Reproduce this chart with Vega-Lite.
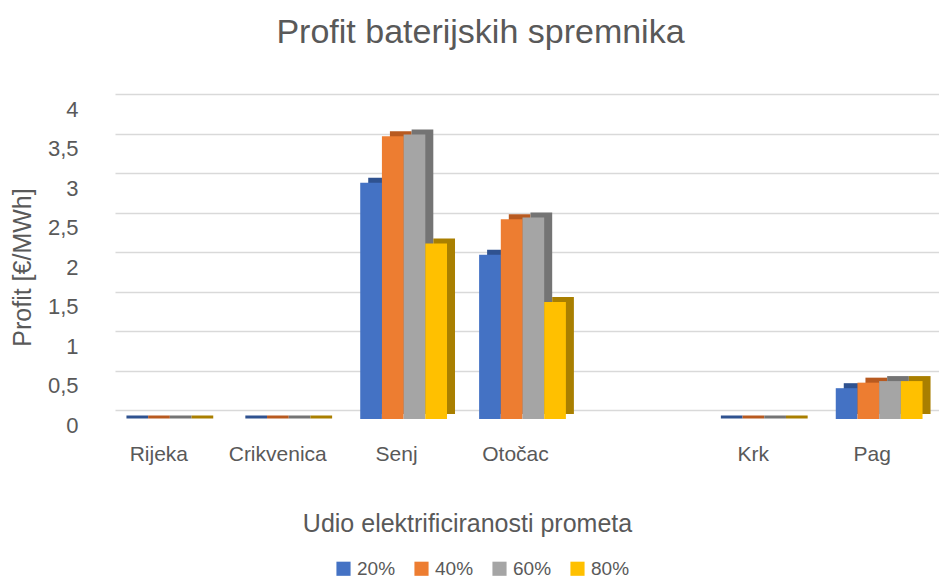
{
  "$schema": "https://vega.github.io/schema/vega-lite/v6.json",
  "width": 831,
  "height": 316,
  "autosize": "none",
  "padding": {"left": 100, "top": 94, "right": 8, "bottom": 168},
  "background": "white",
  "title": {
    "text": "Profit baterijskih spremnika",
    "fontSize": 34,
    "font": "Liberation Sans",
    "fontWeight": "normal",
    "color": "#595959",
    "anchor": "middle",
    "offset": 44,
    "dx": -35
  },
  "data": {
    "values": [
      {"grad": "Rijeka", "udio": "20%", "profit": 0},
      {"grad": "Rijeka", "udio": "40%", "profit": 0},
      {"grad": "Rijeka", "udio": "60%", "profit": 0},
      {"grad": "Rijeka", "udio": "80%", "profit": 0},
      {"grad": "Crikvenica", "udio": "20%", "profit": 0},
      {"grad": "Crikvenica", "udio": "40%", "profit": 0},
      {"grad": "Crikvenica", "udio": "60%", "profit": 0},
      {"grad": "Crikvenica", "udio": "80%", "profit": 0},
      {"grad": "Senj", "udio": "20%", "profit": 2.99},
      {"grad": "Senj", "udio": "40%", "profit": 3.58},
      {"grad": "Senj", "udio": "60%", "profit": 3.6},
      {"grad": "Senj", "udio": "80%", "profit": 2.22},
      {"grad": "Otočac", "udio": "20%", "profit": 2.08},
      {"grad": "Otočac", "udio": "40%", "profit": 2.53},
      {"grad": "Otočac", "udio": "60%", "profit": 2.55},
      {"grad": "Otočac", "udio": "80%", "profit": 1.48},
      {"grad": "Krk", "udio": "20%", "profit": 0},
      {"grad": "Krk", "udio": "40%", "profit": 0},
      {"grad": "Krk", "udio": "60%", "profit": 0},
      {"grad": "Krk", "udio": "80%", "profit": 0},
      {"grad": "Pag", "udio": "20%", "profit": 0.39},
      {"grad": "Pag", "udio": "40%", "profit": 0.46},
      {"grad": "Pag", "udio": "60%", "profit": 0.48},
      {"grad": "Pag", "udio": "80%", "profit": 0.48}
    ]
  },
  "encoding": {
    "xOffset": {
      "field": "udio",
      "type": "nominal",
      "scale": {"domain": ["20%", "40%", "60%", "80%"], "paddingInner": 0, "paddingOuter": 0}
    },
    "y": {
      "field": "profit",
      "type": "quantitative",
      "scale": {"domain": [0, 4], "nice": false},
      "axis": {
        "title": "Profit [€/MWh]",
        "titleFontSize": 25,
        "titleFont": "Liberation Sans",
        "titleFontWeight": "normal",
        "titleColor": "#595959",
        "titleX": -78,
        "titleY": 173,
        "titleBaseline": "middle",
        "values": [0, 0.5, 1, 1.5, 2, 2.5, 3, 3.5, 4],
        "labelExpr": "replace(format(datum.value, '.1~f'), '.', ',')",
        "labelFontSize": 22,
        "labelFont": "Liberation Sans",
        "labelColor": "#595959",
        "labelPadding": 22,
        "labelOffset": 15,
        "domain": false,
        "ticks": false,
        "grid": true,
        "gridColor": "#d9d9d9",
        "gridWidth": 1.5
      }
    }
  },
  "layer": [
    {
      "mark": {"type": "bar", "stroke": null, "yOffset": 4},
      "encoding": {
        "x": {
          "field": "grad",
          "type": "nominal",
          "sort": null,
          "scale": {"domain": ["Rijeka", "Crikvenica", "Senj", "Otočac", " ", "Krk", "Pag"], "paddingInner": 0.27, "paddingOuter": 0.13, "range": [15, 846]},
          "axis": null
        },
        "color": {
          "field": "udio",
          "type": "nominal",
          "scale": {"domain": ["20%", "40%", "60%", "80%"], "range": ["#2F5290", "#B85A20", "#747474", "#A97F00"]},
          "legend": null
        }
      }
    },
    {
      "transform": [{"filter": "datum.profit == 0"}],
      "mark": {"type": "bar", "yOffset": 7, "strokeWidth": 3, "fillOpacity": 0},
      "encoding": {
        "x": {
          "field": "grad",
          "type": "nominal",
          "sort": null,
          "scale": {"domain": ["Rijeka", "Crikvenica", "Senj", "Otočac", " ", "Krk", "Pag"], "paddingInner": 0.27, "paddingOuter": 0.13, "range": [11, 842]},
          "axis": null
        },
        "stroke": {
          "field": "udio",
          "type": "nominal",
          "scale": {"domain": ["20%", "40%", "60%", "80%"], "range": ["#2F5290", "#B85A20", "#747474", "#A97F00"]},
          "legend": null
        }
      }
    },
    {
      "mark": {"type": "bar", "stroke": null, "yOffset": 9},
      "encoding": {
        "x": {
          "field": "grad",
          "type": "nominal",
          "sort": null,
          "scale": {"domain": ["Rijeka", "Crikvenica", "Senj", "Otočac", " ", "Krk", "Pag"], "paddingInner": 0.27, "paddingOuter": 0.13, "range": [7, 838]},
          "axis": {
            "title": "Udio elektrificiranosti prometa",
            "titleFontSize": 25,
            "titleFont": "Liberation Sans",
            "titleFontWeight": "normal",
            "titleColor": "#595959",
            "titleX": 367,
            "titleY": 113,
            "titleBaseline": "middle",
            "labelFontSize": 21,
            "labelFont": "Liberation Sans",
            "labelColor": "#595959",
            "labelAngle": 0,
            "labelPadding": 33,
            "labelOffset": -7,
            "domain": false,
            "ticks": false,
            "grid": false
          }
        },
        "color": {
          "field": "udio",
          "type": "nominal",
          "scale": {"domain": ["20%", "40%", "60%", "80%"], "range": ["#4472C4", "#ED7D31", "#A5A5A5", "#FFC000"]},
          "legend": {
            "title": null,
            "orient": "none",
            "direction": "horizontal",
            "legendX": 234,
            "legendY": 465,
            "symbolType": "square",
            "symbolSize": 200,
            "symbolStrokeWidth": 0,
            "labelFontSize": 19,
            "labelFont": "Liberation Sans",
            "labelColor": "#595959",
            "labelOffset": 4,
            "columnPadding": 16
          }
        }
      }
    }
  ],
  "resolve": {"scale": {"color": "independent", "stroke": "independent", "x": "independent", "xOffset": "independent"}},
  "config": {"view": {"stroke": null}}
}
